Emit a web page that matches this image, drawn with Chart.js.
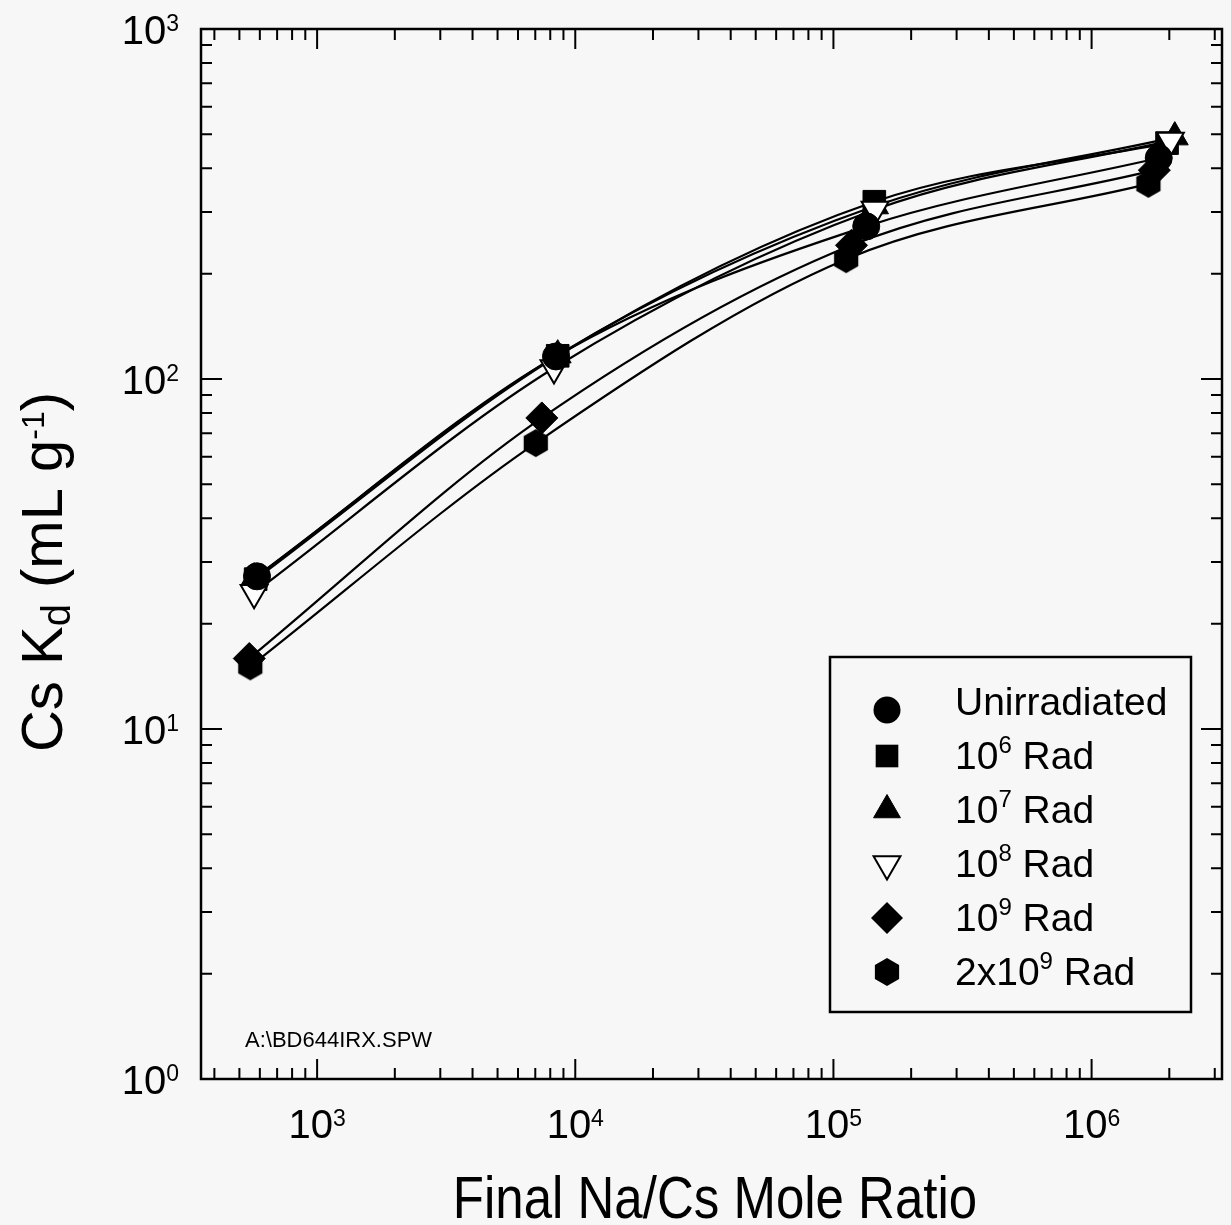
<!DOCTYPE html>
<html>
<head>
<meta charset="utf-8">
<title>Cs Kd vs Na/Cs mole ratio</title>
<script src="https://cdn.jsdelivr.net/npm/chart.js@4.4.0/dist/chart.umd.min.js"></script>
<style>
    html, body { margin: 0; padding: 0; background: #f7f7f7; }
    #wrap { width: 1231px; height: 1225px; }
</style>
</head>
<body>
<div id="wrap"><canvas id="kdChart" width="1231" height="1225"></canvas></div>
<script>
// series names (^{..} = superscript)
const seriesNames = ["Unirradiated", "10^{6} Rad", "10^{7} Rad", "10^{8} Rad", "10^{9} Rad", "2x10^{9} Rad"];

// final Na/Cs mole ratio
const ratioUnirr = [585, 8420, 134000, 1820000];
const ratio1e6   = [578, 8550, 144000, 1960000];
const ratio1e7   = [570, 8550, 145000, 2100000];
const ratio1e8   = [570, 8270, 145000, 2020000];
const ratio1e9   = [546, 7420, 117500, 1750000];
const ratio2e9   = [551, 7030, 112000, 1660000];

// Cs Kd (mL/g)
const kdUnirr = [27.3, 116, 273, 428];
const kd1e6   = [26.8, 116.5, 321, 472];
const kd1e7   = [27.0, 117, 312, 491];
const kd1e8   = [24.5, 107.5, 305, 480];
const kd1e9   = [15.9, 77.4, 241, 395];
const kd2e9   = [15.1, 65.6, 220, 361];

// axis ticks
const xTickValues = [1e3, 1e4, 1e5, 1e6];
const xTickLabels = ["10^{3}", "10^{4}", "10^{5}", "10^{6}"];
const yTickValues = [1, 10, 100, 1000];
const yTickLabels = ["10^{0}", "10^{1}", "10^{2}", "10^{3}"];

const FONT = '"Liberation Sans", Arial, Helvetica, sans-serif';
const BG = "#f7f7f7";

// hexagon marker (pointy top)
function makeHexagon(r) {
    let c = document.createElement("canvas");
    c.width = Math.ceil(r * 2 + 2);
    c.height = Math.ceil(r * 2 + 2);
    let g = c.getContext("2d");
    g.fillStyle = "#000";
    g.beginPath();
    for (let k = 0; k < 6; k++) {
        let a = -Math.PI / 2 + k * Math.PI / 3;
        let px = c.width / 2 + r * Math.cos(a);
        let py = c.height / 2 + r * Math.sin(a);
        if (k === 0) g.moveTo(px, py); else g.lineTo(px, py);
    }
    g.closePath();
    g.fill();
    return c;
}
const hexImg = makeHexagon(14);

const allRatios = [ratioUnirr, ratio1e6, ratio1e7, ratio1e8, ratio1e9, ratio2e9];
const allKd = [kdUnirr, kd1e6, kd1e7, kd1e8, kd1e9, kd2e9];

const markerStyle = ["circle", "rect", "triangle", "triangle", "rectRot", hexImg];
const markerRadius = [13.5, 16, 15.5, 15.5, 16, 14];
const markerRotation = [0, 0, 0, 180, 0, 0];
const markerFill = ["#000", "#000", "#000", "#fff", "#000", "#000"];
const markerBorder = [1, 1, 1, 2, 1, 0];
// circle drawn on top of the other markers
const markerOrder = [0, 3, 2, 1, 1, 2];

function toPoints(xs, ys) {
    return xs.map((x, i) => ({ x: x, y: ys[i] }));
}

let datasets = [];
allRatios.forEach((xs, i) => {
    // smooth fitted curve
    datasets.push({
        label: seriesNames[i] + " fit",
        data: toPoints(xs, allKd[i]),
        showLine: true,
        pointRadius: 0,
        borderColor: "#000",
        borderWidth: 2.2,
        cubicInterpolationMode: "monotone",
        order: 10
    });
    // markers
    datasets.push({
        label: seriesNames[i],
        data: toPoints(xs, allKd[i]),
        showLine: false,
        pointStyle: markerStyle[i],
        pointRadius: markerRadius[i],
        pointRotation: markerRotation[i],
        pointBackgroundColor: markerFill[i],
        pointBorderColor: "#000",
        pointBorderWidth: markerBorder[i],
        order: markerOrder[i]
    });
});

// split "10^{6} Rad" / "K_{d}" into pieces
function parseRich(str) {
    let parts = [];
    let re = /([\^_])\{([^}]*)\}/g;
    let last = 0, m;
    while ((m = re.exec(str)) !== null) {
        if (m.index > last) parts.push({ t: str.slice(last, m.index), k: "n" });
        parts.push({ t: m[2], k: m[1] === "^" ? "sup" : "sub" });
        last = re.lastIndex;
    }
    if (last < str.length) parts.push({ t: str.slice(last), k: "n" });
    return parts;
}

// rich text with super/subscripts; align: left/center/right
function drawRich(ctx, str, x, y, o) {
    let parts = parseRich(str);
    let fontFor = p => (p.k === "n" ? o.size : (p.k === "sup" ? o.supSize : o.subSize)) + "px " + FONT;
    let total = 0;
    parts.forEach(p => { ctx.font = fontFor(p); p.w = ctx.measureText(p.t).width; total += p.w; });
    let cx = x;
    if (o.align === "center") cx = x - total / 2;
    if (o.align === "right") cx = x - total;
    ctx.textAlign = "left";
    ctx.textBaseline = "alphabetic";
    parts.forEach(p => {
        ctx.font = fontFor(p);
        let dy = p.k === "sup" ? -o.rise : (p.k === "sub" ? (o.drop || 0) : 0);
        ctx.fillText(p.t, cx, y + dy);
        cx += p.w;
    });
}

function logTicks(min, max) {
    let out = [];
    for (let e = Math.floor(Math.log10(min)); e <= Math.ceil(Math.log10(max)); e++) {
        for (let m = 1; m <= 9; m++) {
            let v = m * Math.pow(10, e);
            if (v >= min * 0.999 && v <= max * 1.001) out.push({ v: v, major: m === 1 });
        }
    }
    return out;
}

function drawMarker(ctx, i, x, y) {
    let r = markerRadius[i];
    ctx.save();
    ctx.fillStyle = markerFill[i];
    ctx.strokeStyle = "#000";
    ctx.lineWidth = markerBorder[i];
    let st = markerStyle[i];
    if (st === "circle") {
        ctx.beginPath(); ctx.arc(x, y, r, 0, Math.PI * 2); ctx.fill();
    } else if (st === "rect") {
        let s = r * Math.SQRT1_2;
        ctx.fillRect(x - s, y - s, 2 * s, 2 * s);
    } else if (st === "triangle") {
        let rot = markerRotation[i] * Math.PI / 180;
        ctx.translate(x, y); ctx.rotate(rot);
        ctx.beginPath();
        for (let k = 0; k < 3; k++) {
            let a = -Math.PI / 2 + k * 2 * Math.PI / 3;
            if (k === 0) ctx.moveTo(r * Math.cos(a), r * Math.sin(a));
            else ctx.lineTo(r * Math.cos(a), r * Math.sin(a));
        }
        ctx.closePath(); ctx.fill(); ctx.stroke();
    } else if (st === "rectRot") {
        ctx.beginPath();
        ctx.moveTo(x, y - r); ctx.lineTo(x + r, y); ctx.lineTo(x, y + r); ctx.lineTo(x - r, y);
        ctx.closePath(); ctx.fill();
    } else {
        ctx.drawImage(st, x - st.width / 2, y - st.height / 2);
    }
    ctx.restore();
}

const decorPlugin = {
    id: "decor",
    beforeDraw(chart) {
        let ctx = chart.ctx;
        ctx.save();
        ctx.fillStyle = BG;
        ctx.fillRect(0, 0, chart.width, chart.height);
        ctx.restore();
    },
    afterDraw(chart) {
        let ctx = chart.ctx;
        let a = chart.chartArea;
        let xs = chart.scales.x, ys = chart.scales.y;
        ctx.save();
        ctx.strokeStyle = "#000";
        ctx.fillStyle = "#000";

        // frame
        ctx.lineWidth = 2.5;
        ctx.strokeRect(a.left, a.top, a.right - a.left, a.bottom - a.top);

        // inward ticks on all four sides
        ctx.lineWidth = 2;
        ctx.beginPath();
        logTicks(xs.min, xs.max).forEach(t => {
            let px = xs.getPixelForValue(t.v);
            let len = t.major ? 20 : 11;
            ctx.moveTo(px, a.bottom); ctx.lineTo(px, a.bottom - len);
            ctx.moveTo(px, a.top); ctx.lineTo(px, a.top + len);
        });
        logTicks(ys.min, ys.max).forEach(t => {
            let py = ys.getPixelForValue(t.v);
            let len = t.major ? 21 : 11;
            ctx.moveTo(a.left, py); ctx.lineTo(a.left + len, py);
            ctx.moveTo(a.right, py); ctx.lineTo(a.right - len, py);
        });
        ctx.stroke();

        // tick labels
        xTickValues.forEach((v, i) => {
            drawRich(ctx, xTickLabels[i], xs.getPixelForValue(v), a.bottom + 59,
                { size: 40, supSize: 23, rise: 12, align: "center" });
        });
        yTickValues.forEach((v, i) => {
            drawRich(ctx, yTickLabels[i], a.left - 22, ys.getPixelForValue(v) + 15,
                { size: 40, supSize: 23, rise: 13, align: "right" });
        });

        // axis titles
        ctx.save();
        ctx.translate(715, 1218);
        ctx.scale(1, 1.17);
        ctx.font = "51px " + FONT;
        ctx.textAlign = "center";
        ctx.textBaseline = "alphabetic";
        ctx.fillText("Final Na/Cs Mole Ratio", 0, 0);
        ctx.restore();

        ctx.save();
        ctx.translate(62, 572);
        ctx.rotate(-Math.PI / 2);
        drawRich(ctx, "Cs K_{d} (mL g^{-1})", 0, 0,
            { size: 58, supSize: 32, rise: 18, subSize: 40, drop: 8, align: "center" });
        ctx.restore();

        // file note
        ctx.font = "22px " + FONT;
        ctx.textAlign = "left";
        ctx.fillText("A:\\BD644IRX.SPW", 245, 1047);

        // legend
        let lx = 830, ly = 657, lw = 361, lh = 355;
        ctx.fillStyle = BG;
        ctx.fillRect(lx, ly, lw, lh);
        ctx.lineWidth = 2.5;
        ctx.strokeRect(lx, ly, lw, lh);
        seriesNames.forEach((name, i) => {
            let base = 715 + i * 54;
            let my = i === 0 ? base - 5 : base - 13;
            drawMarker(ctx, i, 887, my);
            ctx.fillStyle = "#000";
            drawRich(ctx, name, 955, base, { size: 39, supSize: 24, rise: 16, align: "left" });
        });
        ctx.restore();
    }
};

new Chart(document.getElementById("kdChart").getContext("2d"), {
    type: "scatter",
    data: { datasets: datasets },
    options: {
        responsive: false,
        animation: false,
        events: [],
        layout: { autoPadding: false, padding: { left: 201, top: 29, right: 9, bottom: 146 } },
        scales: {
            x: { type: "logarithmic", min: 355, max: 3.2e6, display: false },
            y: { type: "logarithmic", min: 1, max: 1000, display: false }
        },
        plugins: {
            legend: { display: false },
            tooltip: { enabled: false }
        }
    },
    plugins: [decorPlugin]
});
</script>
</body>
</html>
